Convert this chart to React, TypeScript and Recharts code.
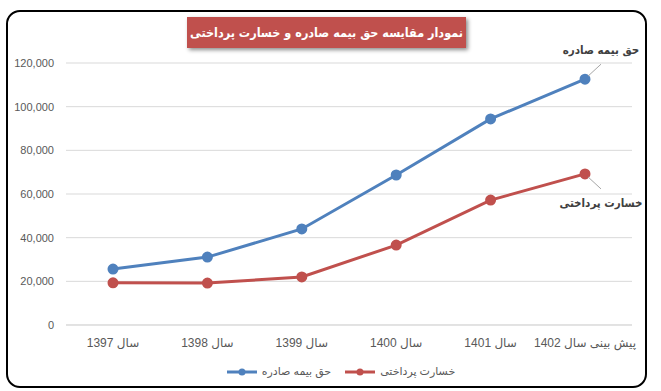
import { LineChart, Line, XAxis, YAxis, CartesianGrid, Legend, LabelList } from 'recharts'

const years = ['سال 1397', 'سال 1398', 'سال 1399', 'سال 1400', 'سال 1401', 'پیش بینی سال 1402']
const premiums = [25600, 31100, 44000, 68700, 94400, 112600]
const claims = [19300, 19200, 22000, 36600, 57200, 69200]
const yTicks = [0, 20000, 40000, 60000, 80000, 100000, 120000]

const premiumName = 'حق بیمه صادره'
const claimName = 'خسارت پرداختی'
const title = 'نمودار مقایسه حق بیمه صادره و خسارت پرداختی'

const BLUE = '#4F81BD'
const RED = '#C0504D'
const FONT = '"Liberation Sans", "DejaVu Sans", sans-serif'
const NARROW = '"DejaVu Sans Condensed", "DejaVu Sans", sans-serif'

const data = years.map((name, i) => ({ name, premium: premiums[i], claim: claims[i] }))

// last label is shown left-to-right in the original, the others right-to-left
const XTick = ({ x, y, payload, index }: any) => {
  const label = index < years.length - 1 ? '\u2067' + payload.value + '\u2069' : payload.value
  return (
    <text x={x} y={y + 14} textAnchor="middle" fontSize={12} fill="#595959" fontFamily={FONT}>
      {label}
    </text>
  )
}

const EndLabel = (text: string, up: boolean) => (props: any) => {
  const { x, y, index } = props
  if (index !== years.length - 1) return null
  const dy = up ? -1 : 1
  return (
    <g>
      <line x1={x + 3} y1={y + dy * 3} x2={x + 16} y2={y + dy * 15} stroke="#a6a6a6" strokeWidth={1} />
      <text
        x={x + 16}
        y={up ? y - 25 : y + 33}
        textAnchor="middle"
        fontSize={11.5}
        fontWeight="bold"
        fill="#404040"
        fontFamily={NARROW}
      >
        {text}
      </text>
    </g>
  )
}

const LegendContent = () => (
  <div style={{ display: 'flex', justifyContent: 'center', alignItems: 'center', fontFamily: FONT, fontSize: 11, color: '#595959', paddingLeft: 50 }}>
    {[
      { name: premiumName, color: BLUE },
      { name: claimName, color: RED },
    ].map((item) => (
      <div key={item.name} style={{ display: 'flex', alignItems: 'center', margin: '0 7px' }}>
        <svg width={30} height={10}>
          <line x1={0} y1={5} x2={30} y2={5} stroke={item.color} strokeWidth={3} />
          <circle cx={15} cy={5} r={3.5} fill={item.color} />
        </svg>
        <span style={{ marginLeft: 5 }}>{item.name}</span>
      </div>
    ))}
  </div>
)

export default function App() {
  return (
    <div style={{ position: 'absolute', left: 0, top: 0, width: 661, height: 391, background: '#fff' }}>
      <div
        style={{
          position: 'absolute',
          left: 6,
          top: 10,
          width: 637,
          height: 374,
          border: '2px solid #000',
          borderRadius: 14,
        }}
      />
      <LineChart width={661} height={391} data={data} margin={{ top: 63, right: 29, left: 0, bottom: 0 }}>
        <CartesianGrid vertical={false} stroke="#d9d9d9" />
        <XAxis
          dataKey="name"
          tick={<XTick />}
          tickLine={false}
          axisLine={{ stroke: '#d9d9d9' }}
          height={40}
          interval={0}
          padding={{ left: 47, right: 47 }}
        />
        <YAxis
          domain={[0, 120000]}
          ticks={yTicks}
          width={66}
          tickLine={false}
          axisLine={false}
          tickSize={0}
          tickMargin={12}
          tick={{ fontSize: 11, fill: '#595959', fontFamily: FONT }}
          tickFormatter={(v) => v.toLocaleString('en-US')}
        />
        <Legend verticalAlign="bottom" height={26} content={<LegendContent />} />
        <Line
          dataKey="premium"
          name={premiumName}
          stroke={BLUE}
          strokeWidth={3}
          dot={{ r: 4, fill: BLUE, stroke: BLUE }}
          isAnimationActive={false}
        >
          <LabelList dataKey="premium" content={EndLabel(premiumName, true)} />
        </Line>
        <Line
          dataKey="claim"
          name={claimName}
          stroke={RED}
          strokeWidth={3}
          dot={{ r: 4, fill: RED, stroke: RED }}
          isAnimationActive={false}
        >
          <LabelList dataKey="claim" content={EndLabel(claimName, false)} />
        </Line>
      </LineChart>
      <div
        style={{
          position: 'absolute',
          left: 187,
          top: 17,
          width: 279,
          height: 31,
          background: RED,
          color: '#fff',
          fontFamily: NARROW,
          fontWeight: 'bold',
          fontSize: 12.5,
          whiteSpace: 'nowrap',
          direction: 'rtl',
          display: 'flex',
          alignItems: 'center',
          justifyContent: 'center',
          boxShadow: '2px 2px 4px rgba(0,0,0,0.45)',
        }}
      >
        {title}
      </div>
    </div>
  )
}
